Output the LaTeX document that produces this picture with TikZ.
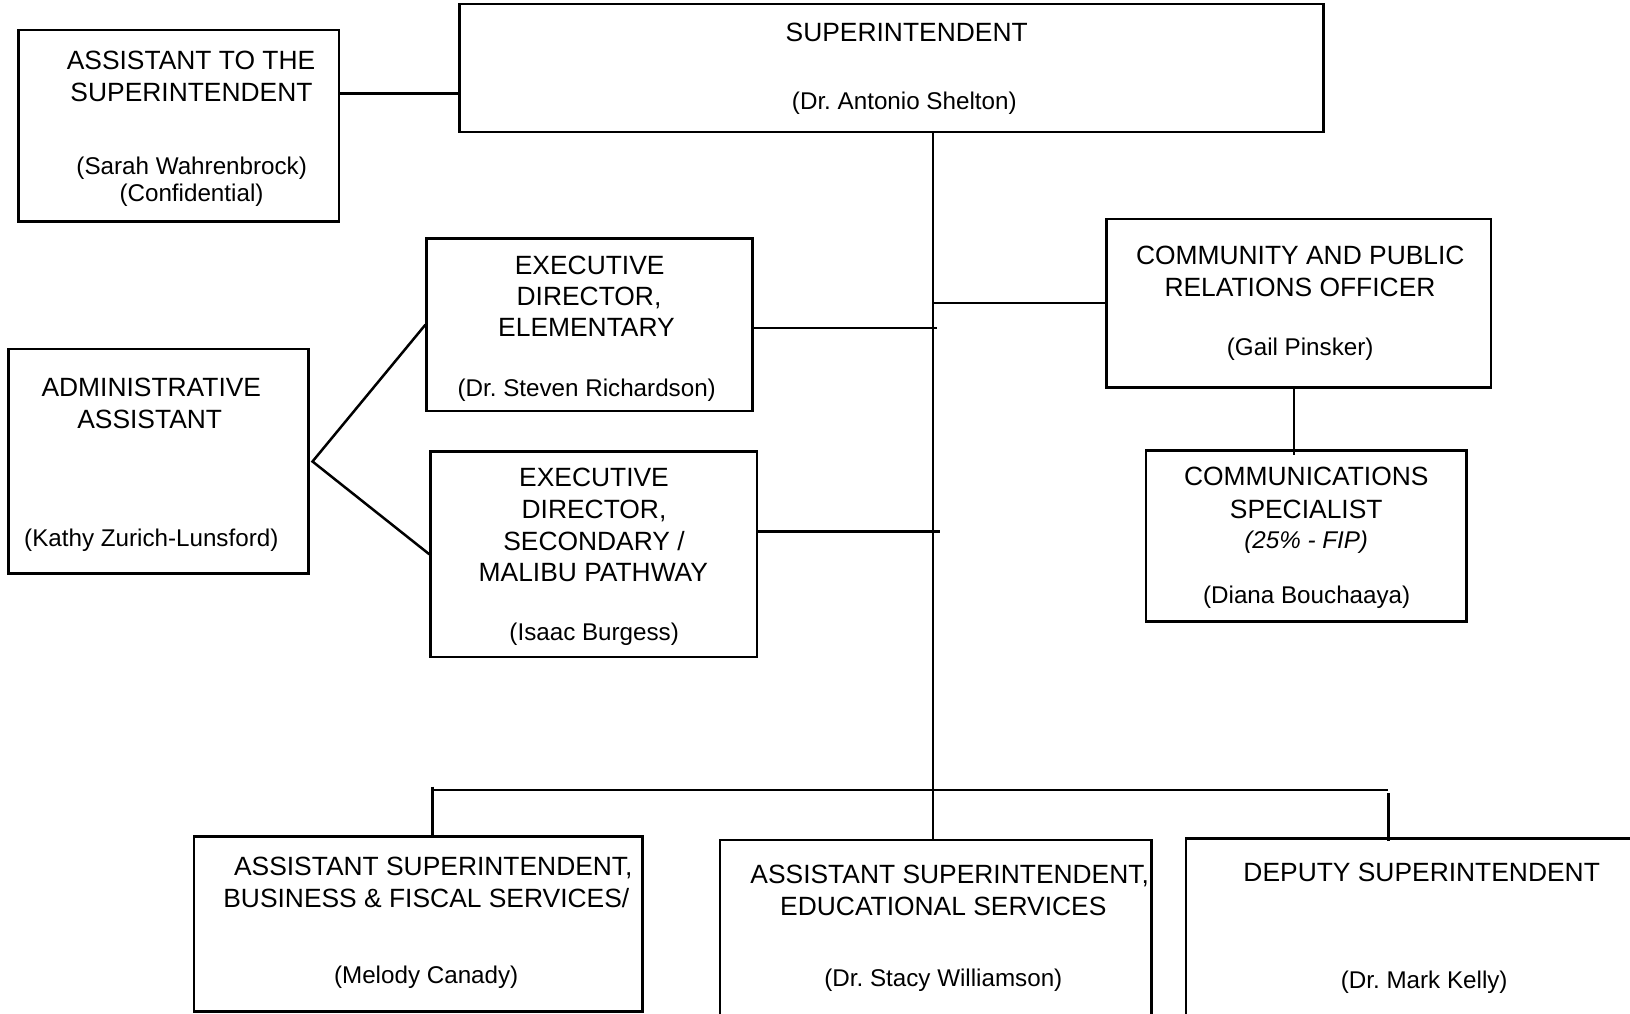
\documentclass[tikz,border=0pt]{standalone}
\usepackage{fontspec}
\setmainfont{Liberation Sans}
\newcommand\tsz{\fontsize{26.4}{32}\selectfont}
\newcommand\nsz{\fontsize{24.2}{29}\selectfont}
\tikzset{
  box/.style={draw, rectangle, line width=2.5pt, inner sep=0pt},
  ttl/.style={font=\tsz, anchor=base, inner sep=0pt},
  nm/.style={font=\nsz, anchor=base, inner sep=0pt},
  conn/.style={line width=2.5pt}
}
\begin{document}
\frenchspacing
\begin{tikzpicture}[x=1pt, y=-1pt]
\useasboundingbox (0,0) rectangle (1630,1014);
\clip (0,0) rectangle (1630,1014);
\fill[white] (0,0) rectangle (1630,1014);

% boxes
\node[box, minimum width=320.2pt, minimum height=191.3pt] (asst) at (178.8,125.75) {};
\node[box, minimum width=863.8pt, minimum height=127.8pt] (sup) at (891.4,68.1) {};
\node[box, minimum width=325.8pt, minimum height=172.7pt] (elem) at (589.6,324.65) {};
\node[box, minimum width=326.3pt, minimum height=205.3pt] (sec) at (593.85,554.35) {};
\node[box, minimum width=300.1pt, minimum height=224.3pt] (admin) at (158.65,461.15) {};
\node[box, minimum width=384.5pt, minimum height=168.3pt] (comm) at (1298.75,303.15) {};
\node[box, minimum width=320.7pt, minimum height=171pt] (spec) at (1306.35,536.2) {};
\node[box, minimum width=448.7pt, minimum height=175pt] (biz) at (418.35,924.2) {};
\node[box, minimum width=431.7pt, minimum height=210pt] (edu) at (935.85,945) {};
\node[box, minimum width=494pt, minimum height=211.7pt] (dep) at (1433,944.15) {};

% texts
\node[ttl] (asst1) at (191,70) {ASSISTANT TO THE};
\node[ttl] (asst2) at (191.5,101.7) {SUPERINTENDENT};
\node[nm] (asst3) at (191.7,174) {(Sarah Wahrenbrock)};
\node[nm] (asst4) at (191.5,201.7) {(Confidential)};

\node[ttl] (sup1) at (906.7,41.7) {SUPERINTENDENT};
\node[nm] (sup2) at (904.3,109.3) {(Dr. Antonio Shelton)};

\node[ttl] (elem1) at (589.7,274.3) {EXECUTIVE};
\node[ttl] (elem2) at (589,305.7) {DIRECTOR,};
\node[ttl] (elem3) at (586.5,336.7) {ELEMENTARY};
\node[nm] (elem4) at (586.7,396) {(Dr. Steven Richardson)};

\node[ttl] (sec1) at (594,486.7) {EXECUTIVE};
\node[ttl] (sec2) at (594,518.3) {DIRECTOR,};
\node[ttl] (sec3) at (594,550) {SECONDARY /};
\node[ttl] (sec4) at (593.3,581.7) {MALIBU PATHWAY};
\node[nm] (sec5) at (594.2,640) {(Isaac Burgess)};

\node[ttl] (adm1) at (151.3,396.7) {ADMINISTRATIVE};
\node[ttl] (adm2) at (149.7,428.3) {ASSISTANT};
\node[nm] (adm3) at (151.3,546) {(Kathy Zurich-Lunsford)};

\node[ttl] (comm1) at (1300.3,264.3) {COMMUNITY AND PUBLIC};
\node[ttl] (comm2) at (1300,296.7) {RELATIONS OFFICER};
\node[nm] (comm3) at (1300.2,355) {(Gail Pinsker)};

\node[ttl] (spec1) at (1306.3,485.7) {COMMUNICATIONS};
\node[ttl] (spec2) at (1306.2,518.3) {SPECIALIST};
\node[nm, font=\nsz\itshape] (spec3) at (1306.2,548.3) {(25\% - FIP)};
\node[nm] (spec4) at (1306.7,603.3) {(Diana Bouchaaya)};

\node[ttl] (biz1) at (433.3,875) {ASSISTANT SUPERINTENDENT,};
\node[ttl] (biz2) at (426.3,907.3) {BUSINESS \& FISCAL SERVICES/};
\node[nm] (biz3) at (426.2,983.3) {(Melody Canady)};

\node[ttl] (edu1) at (949.7,883.3) {ASSISTANT SUPERINTENDENT,};
\node[ttl] (edu2) at (943.3,915) {EDUCATIONAL SERVICES};
\node[nm] (edu3) at (943.3,986) {(Dr. Stacy Williamson)};

\node[ttl] (dep1) at (1421.7,881.7) {DEPUTY SUPERINTENDENT};
\node[nm] (dep2) at (1424.2,988.3) {(Dr. Mark Kelly)};

% connector coordinates
\coordinate (yA) at (0,93.3);
\coordinate (tr) at (933,0);
\coordinate (yE) at (0,328);
\coordinate (eEnd) at (936.5,328);
\coordinate (yS) at (0,531.7);
\coordinate (sEnd) at (940,531.7);
\coordinate (vx) at (312.5,461.5);
\coordinate (cxx) at (1294,0);
\coordinate (cxb) at (1294,455);
\coordinate (busL) at (432.7,790);
\coordinate (busR) at (1388.3,790);
\coordinate (dL) at (432.7,786.7);
\coordinate (dR) at (1388.3,793.3);
\coordinate (dRb) at (1388.3,840.5);

% connectors
\draw[conn] (asst.east |- yA) -- (sup.west |- yA);
\draw[conn] (sup.south -| tr) -- (edu.north -| tr);
\draw[conn] (elem.east |- yE) -- (eEnd);
\draw[conn] (comm.west) -- (comm.west -| tr);
\draw[conn] (sec.east |- yS) -- (sEnd);
\draw[conn] (elem.west) -- (vx) -- (sec.west);
\draw[conn] (comm.south -| cxx) -- (cxb);
\draw[conn] (busL) -- (busR);
\draw[conn] (dL) -- (biz.north -| dL);
\draw[conn] (dR) -- (dRb);
\end{tikzpicture}
\end{document}
